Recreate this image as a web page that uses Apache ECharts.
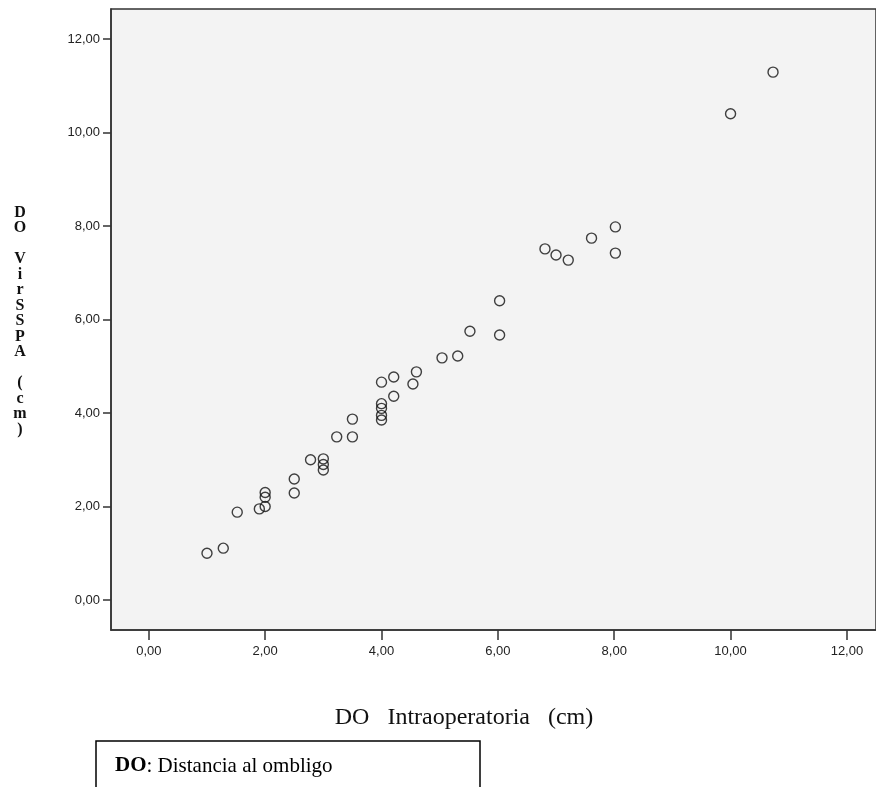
<html>
<head>
  <meta charset="utf-8">
  <title>DO</title>
  <script src="https://cdn.jsdelivr.net/npm/echarts@6/dist/echarts.min.js"></script>
  <style>
    body { margin:0; background:#fff; }
  </style>
</head>
<body>
<div id="main" style="width:876px;height:787px;"></div>
<script>
  // DO Intraoperatoria (x) vs DO VirSSPA (y), in cm
  var xIntra = [1.0, 1.28, 1.52, 1.9, 2.0, 2.0, 2.0, 2.5, 2.5, 2.78, 3.0, 3.0, 3.0,
    3.23, 3.5, 3.5, 4.0, 4.0, 4.0, 4.0, 4.0, 4.21, 4.21, 4.54, 4.6,
    5.04, 5.31, 5.52, 6.03, 6.03, 6.81, 7.0, 7.21, 7.61, 8.02, 8.02, 10.0, 10.73];
  var yVirsspa = [1.0, 1.11, 1.88, 1.95, 2.0, 2.2, 2.3, 2.29, 2.59, 3.0, 3.02, 2.9, 2.78,
    3.49, 3.49, 3.87, 3.85, 3.95, 4.1, 4.2, 4.66, 4.36, 4.77, 4.62, 4.88,
    5.18, 5.22, 5.75, 5.67, 6.4, 7.51, 7.38, 7.27, 7.74, 7.98, 7.42, 10.4, 11.29];
  var tickValues = [0, 2, 4, 6, 8, 10, 12];

  var points = xIntra.map(function (x, i) { return [x, yVirsspa[i]]; });

  function fmt(v) { return v.toFixed(2).replace('.', ','); }

  var labelFont = { color: '#222', fontSize: 13, fontFamily: 'Liberation Sans, Arial' };

  var myChart = echarts.init(document.getElementById('main'));
  myChart.setOption({
    animation: false,
    grid: {
      left: 111, top: 9, right: 0, bottom: 157,
      show: true,
      backgroundColor: '#f3f3f3',
      borderColor: '#333',
      borderWidth: 1.5
    },
    xAxis: {
      type: 'value',
      min: -0.65, max: 12.5,
      axisLine: { show: true, onZero: false, lineStyle: { color: '#333', width: 1.5 } },
      axisTick: { show: true, length: 10, customValues: tickValues, lineStyle: { color: '#333', width: 1.5 } },
      axisLabel: Object.assign({ customValues: tickValues, formatter: fmt, margin: 15 }, labelFont),
      splitLine: { show: false }
    },
    yAxis: {
      type: 'value',
      min: -0.64, max: 12.64,
      axisLine: { show: true, onZero: false, lineStyle: { color: '#333', width: 1.5 } },
      axisTick: { show: true, length: 8, customValues: tickValues, lineStyle: { color: '#333', width: 1.5 } },
      axisLabel: Object.assign({ customValues: tickValues, formatter: fmt, margin: 11 }, labelFont),
      splitLine: { show: false }
    },
    graphic: [
      {
        type: 'text', x: 20, y: 205,
        style: {
          text: 'D\nO\n\nV\ni\nr\nS\nS\nP\nA\n\n(\nc\nm\n)',
          font: 'bold 16px "Liberation Serif"', lineHeight: 15.5,
          align: 'center', fill: '#111'
        }
      },
      {
        type: 'text', x: 464, y: 718,
        style: {
          text: 'DO   Intraoperatoria   (cm)',
          font: '24px "Liberation Serif"', fill: '#111',
          align: 'center', verticalAlign: 'middle'
        }
      },
      {
        type: 'rect', shape: { x: 96, y: 741, width: 384, height: 60 },
        style: { fill: '#fff', stroke: '#000', lineWidth: 1.5 }
      },
      {
        type: 'text', x: 115, y: 766,
        style: {
          rich: {
            b: { font: 'bold 21px "Liberation Serif"', fill: '#000' },
            n: { font: '21px "Liberation Serif"', fill: '#000' }
          },
          text: '{b|DO}{n|: Distancia al ombligo}',
          verticalAlign: 'middle'
        }
      }
    ],
    series: [{
      type: 'scatter',
      data: points,
      symbol: 'circle',
      symbolSize: 10,
      itemStyle: { color: 'rgba(0,0,0,0)', borderColor: '#111', borderWidth: 1.4 }
    }]
  });
</script>
</body>
</html>
